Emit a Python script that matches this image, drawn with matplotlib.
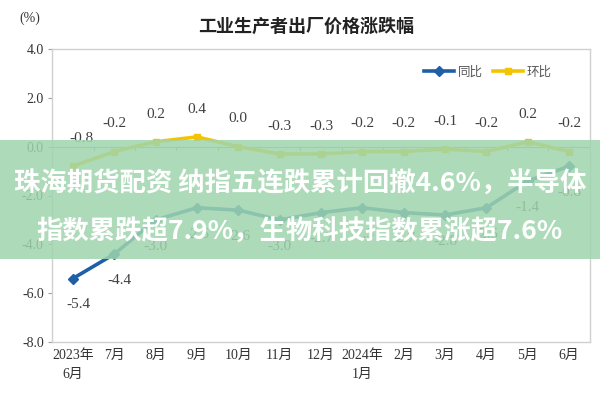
import matplotlib
matplotlib.use("Agg")
import matplotlib.pyplot as plt
from matplotlib.patches import Rectangle

plt.rcParams['font.family'] = ['Liberation Serif', 'Noto Sans CJK SC', 'DejaVu Sans']

months = ['2023年\n6月', '7月', '8月', '9月', '10月', '11月', '12月',
          '2024年\n1月', '2月', '3月', '4月', '5月', '6月']
yoy = [-5.4, -4.4, -3.0, -2.5, -2.6, -3.0, -2.7, -2.5, -2.7, -2.8, -2.5, -1.4, -0.8]
mom = [-0.8, -0.2, 0.2, 0.4, 0.0, -0.3, -0.3, -0.2, -0.2, -0.1, -0.2, 0.2, -0.2]
yticks = [-8.0, -6.0, -4.0, -2.0, 0.0, 2.0, 4.0]

title = '工业生产者出厂价格涨跌幅'
banner = '珠海期货配资 纳指五连跌累计回撤4.6%，半导体\n指数累跌超7.9%，生物科技指数累涨超7.6%'

blue = '#1f5fa8'
gold = '#f5c400'

fig = plt.figure(figsize=(6, 4), dpi=100)
ax = fig.add_axes([0.087, 0.145, 0.896, 0.7325])
x = list(range(len(months)))

ax.plot(x, yoy, color=blue, lw=2.6, marker='D', ms=5, label='同比', zorder=3)
ax.plot(x, mom, color=gold, lw=2.6, marker='s', ms=5, label='环比', zorder=3)

for i, v in enumerate(mom):
    dx = 6 if i == 0 else 0
    ax.annotate(f'{v:.1f}', (i, v), xytext=(dx, 20), textcoords='offset points',
                ha='center', va='center', fontsize=11, color='#404040')
for i, v in enumerate(yoy):
    dx = 4 if i < 2 else 0
    ax.annotate(f'{v:.1f}', (i, v), xytext=(dx, -19), textcoords='offset points',
                ha='center', va='center', fontsize=11, color='#404040')

# category axis crossing at zero
ax.axhline(0, color='#a0a0a0', lw=0.8, zorder=1)
for i in range(len(months) - 1):
    ax.plot([i + 0.5, i + 0.5], [0, -0.12], color='#a0a0a0', lw=0.8, zorder=1)

ax.set_xlim(-0.5, len(months) - 0.5)
ax.set_ylim(-8, 4)
ax.set_yticks(yticks)
ax.set_yticklabels([f'{t:.1f}' for t in yticks], fontsize=10, color='#333333')
ax.set_xticks(x)
ax.set_xticklabels(months, fontsize=10, color='#333333', linespacing=1.6)
ax.tick_params(axis='x', length=0, pad=5)
ax.tick_params(axis='y', length=3, color='#a0a0a0', pad=3)
for s in ax.spines.values():
    s.set_color('#d0d0d0')
    s.set_linewidth(1.0)

ax.legend(loc='center right', bbox_to_anchor=(0.95, 0.92), ncol=2, frameon=False,
          fontsize=9, handlelength=2.4, columnspacing=0.8, handletextpad=0.3,
          labelcolor='#555555')

fig.text(0.51, 0.935, title, ha='center', va='center', fontsize=13,
         fontweight='bold', color='#222222', family=['Noto Sans CJK SC'])
fig.text(0.05, 0.955, '(%)', ha='center', va='center', fontsize=10, color='#333333')

# green banner overlay
fig.patches.append(Rectangle((0, 0.3525), 1, 0.2975, transform=fig.transFigure,
                             facecolor='#9fd5ad', alpha=0.85, edgecolor='none', zorder=10))
fig.text(0.5, 0.48, banner, ha='center', va='center', fontsize=19, fontweight='bold',
         color='white', linespacing=2.0, zorder=11, family=['Noto Sans CJK SC', 'DejaVu Sans'])

fig.savefig('out.png', dpi=100)
